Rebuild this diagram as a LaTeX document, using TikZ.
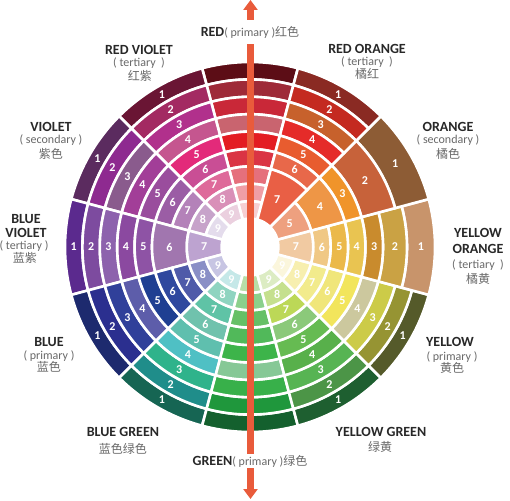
\documentclass[tikz,border=0pt]{standalone}
\usepackage{fontspec}
\setmainfont{Carlito}
\newfontfamily\cjk{Noto Sans CJK SC}
\usetikzlibrary{arrows.meta,positioning}
\definecolor{namedark}{RGB}{40,40,40}
\definecolor{kindgrey}{RGB}{105,105,105}
\definecolor{arrowred}{HTML}{E95B3B}
% cell colours, outer ring first
\definecolor{red1}{HTML}{5C0D16}\definecolor{red2}{HTML}{9E2A38}\definecolor{red3}{HTML}{C92838}
\definecolor{red4}{HTML}{C9646F}\definecolor{red5}{HTML}{E31C22}\definecolor{red6}{HTML}{DA3444}
\definecolor{red7}{HTML}{E5707C}\definecolor{red8}{HTML}{EF9EA6}\definecolor{red9}{HTML}{F6CFD2}
\definecolor{rv1}{HTML}{6A1534}\definecolor{rv2}{HTML}{A32A62}\definecolor{rv3}{HTML}{B1308C}
\definecolor{rv4}{HTML}{C5568F}\definecolor{rv5}{HTML}{E32A7A}\definecolor{rv6}{HTML}{C94E95}
\definecolor{rv7}{HTML}{DE6A9A}\definecolor{rv8}{HTML}{D990B8}\definecolor{rv9}{HTML}{EBD0DF}
\definecolor{vio1}{HTML}{5B2B5F}\definecolor{vio2}{HTML}{8E2A90}\definecolor{vio3}{HTML}{8A5B8D}
\definecolor{vio4}{HTML}{A23E98}\definecolor{vio5}{HTML}{9A4D9D}\definecolor{vio6}{HTML}{9B5DA5}
\definecolor{vio7}{HTML}{B482B9}\definecolor{vio8}{HTML}{C7A3CA}\definecolor{vio9}{HTML}{E4DCEC}
\definecolor{bv1}{HTML}{5B2A8E}\definecolor{bv2}{HTML}{7D4B9F}\definecolor{bv3}{HTML}{8D62AD}
\definecolor{bv4}{HTML}{8B49A0}\definecolor{bv5}{HTML}{8E53A5}\definecolor{bv6}{HTML}{A176AF}
\definecolor{bv7}{HTML}{BDA3D0}
\definecolor{blu1}{HTML}{1D2A6E}\definecolor{blu2}{HTML}{2B2F8F}\definecolor{blu3}{HTML}{30409A}
\definecolor{blu4}{HTML}{5D5DAA}\definecolor{blu5}{HTML}{1F3F92}\definecolor{blu6}{HTML}{2F489E}
\definecolor{blu7}{HTML}{4F5AA9}\definecolor{blu8}{HTML}{8A8FC6}\definecolor{blu9}{HTML}{C7C5E3}
\definecolor{bg1}{HTML}{166553}\definecolor{bg2}{HTML}{1F8D8A}\definecolor{bg3}{HTML}{2FB38B}
\definecolor{bg4}{HTML}{4FC0C4}\definecolor{bg5}{HTML}{5FBFAE}\definecolor{bg6}{HTML}{70C2AD}
\definecolor{bg7}{HTML}{5FC3A6}\definecolor{bg8}{HTML}{8FD4C0}\definecolor{bg9}{HTML}{C5E8E8}
\definecolor{grn1}{HTML}{14602E}\definecolor{grn2}{HTML}{1F973C}\definecolor{grn3}{HTML}{38B04A}
\definecolor{grn4}{HTML}{86C896}\definecolor{grn5}{HTML}{3DB44A}\definecolor{grn6}{HTML}{51B95A}
\definecolor{grn7}{HTML}{66C066}\definecolor{grn8}{HTML}{8BD08C}\definecolor{grn9}{HTML}{B8DEA8}
\definecolor{yg1}{HTML}{1E5F30}\definecolor{yg2}{HTML}{4C9547}\definecolor{yg3}{HTML}{57B453}
\definecolor{yg4}{HTML}{58B04B}\definecolor{yg5}{HTML}{66BB52}\definecolor{yg6}{HTML}{8BC97A}
\definecolor{yg7}{HTML}{BCD857}\definecolor{yg8}{HTML}{C5E08E}\definecolor{yg9}{HTML}{DCECC3}
\definecolor{yel1}{HTML}{555A2A}\definecolor{yel2}{HTML}{969433}\definecolor{yel3}{HTML}{CCCB48}
\definecolor{yel4}{HTML}{CCC89E}\definecolor{yel5}{HTML}{F2E55C}\definecolor{yel6}{HTML}{F0E67A}
\definecolor{yel7}{HTML}{F2EB8C}\definecolor{yel8}{HTML}{F7EFAF}\definecolor{yel9}{HTML}{FBF6DC}
\definecolor{yo1}{HTML}{C8946B}\definecolor{yo2}{HTML}{CAA244}\definecolor{yo3}{HTML}{C98B2D}
\definecolor{yo4}{HTML}{E9C451}\definecolor{yo5}{HTML}{EBB94A}\definecolor{yo6}{HTML}{F0C885}
\definecolor{yo7}{HTML}{F1CAA2}
\definecolor{ora1}{HTML}{8D5C35}\definecolor{ora2}{HTML}{C7623A}\definecolor{ora3}{HTML}{F0942A}
\definecolor{ora4}{HTML}{EE9646}\definecolor{ora5}{HTML}{EEA07F}
\definecolor{ro1}{HTML}{8A2A23}\definecolor{ro2}{HTML}{C42A20}\definecolor{ro3}{HTML}{C7612C}
\definecolor{ro4}{HTML}{E52B29}\definecolor{ro5}{HTML}{E85C2F}\definecolor{ro6}{HTML}{E8684A}
\definecolor{ro7}{HTML}{E95F45}
% rings as outer/inner/number
\def\ninerings{185/167.6/1,167.6/150.2/2,150.2/132.8/3,132.8/115.4/4,115.4/98/5,98/80.6/6,80.6/63.2/7,63.2/45.8/8,45.8/28.4/9}
\def\rorings{185/167.6/1,167.6/150.2/2,150.2/132.8/3,132.8/115.4/4,115.4/98/5,98/80.6/6,80.6/28.4/7}
\def\orarings{185/150.2/1,150.2/115.4/2,115.4/98/3,98/63.2/4,63.2/28.4/5}
\def\yorings{185/157/1,157/133/2,133/115.4/3,115.4/98/4,98/80.6/5,80.6/63.2/6,63.2/28.4/7}
\def\bvrings{185/167.6/1,167.6/150.2/2,150.2/132.8/3,132.8/115.4/4,115.4/98/5,98/63.2/6,63.2/28.4/7}
\newcommand{\sector}[3]{%
  \foreach \ro/\ri/\n in #3
    \filldraw[cell, fill=#1\n] (#2-15:\ro) arc[start angle=#2-15, end angle=#2+15, radius=\ro]
      -- (#2+15:\ri) arc[start angle=#2+15, end angle=#2-15, radius=\ri] -- cycle;}
\newcommand{\ringnums}[3]{%
  \foreach \ro/\ri/\n in #3
    \node[num] (#1-\n) at (#2:{(\ro+\ri)/2}) {\n};}

\begin{document}
\begin{tikzpicture}[x=1pt,y=1pt,
 cell/.style={draw=white,line width=2.6pt},
 num/.style={text=white,font=\bfseries\fontsize{12}{12}\selectfont,inner sep=0pt},
 cname/.style={text=namedark,font=\bfseries\fontsize{14}{14}\selectfont,inner sep=0pt},
 ckind/.style={text=kindgrey,font=\fontsize{12}{12}\selectfont,inner sep=0pt},
 ccjk/.style={text=kindgrey,font=\cjk\fontsize{12}{12}\selectfont,inner sep=0pt},
 primline/.style={cname,fill=white,inner xsep=1pt},
 arr/.style={arrowred,line width=7.6pt,{Triangle[width=14pt,length=10pt]}-{Triangle[width=14pt,length=10pt]}}]
\path[use as bounding box,fill=white] (-250,-253) rectangle (260,247);
% the wheel
\sector{red}{90}{\ninerings}
\sector{rv}{120}{\ninerings}
\sector{vio}{150}{\ninerings}
\sector{bv}{180}{\bvrings}
\sector{blu}{210}{\ninerings}
\sector{bg}{240}{\ninerings}
\sector{grn}{270}{\ninerings}
\sector{yg}{300}{\ninerings}
\sector{yel}{330}{\ninerings}
\sector{yo}{0}{\yorings}
\sector{ora}{30}{\orarings}
\sector{ro}{60}{\rorings}
\ringnums{rv}{120}{\ninerings}
\ringnums{vio}{150}{\ninerings}
\ringnums{bv}{180}{\bvrings}
\ringnums{blu}{210}{\ninerings}
\ringnums{bg}{240}{\ninerings}
\ringnums{yg}{300}{\ninerings}
\ringnums{yel}{330}{\ninerings}
\ringnums{yo}{0}{\yorings}
\ringnums{ora}{30}{\orarings}
\ringnums{ro}{60}{\rorings}
% names round the wheel
\node[cname] (rvname) at (-111,197) {RED VIOLET};
\node[ckind] (rvkind) at (-111,184) {( tertiary~ )};
\node[ccjk] (rvcjk) at (-110,171) {红紫};
\node[cname] (roname) at (117,198) {RED ORANGE};
\node[ckind] (rokind) at (117,185) {( tertiary~ )};
\node[ccjk] (rocjk) at (117,173) {橘红};
\node[cname] (vioname) at (-199,120) {VIOLET};
\node[ckind] (viokind) at (-199,107) {( secondary )};
\node[ccjk] (viocjk) at (-199,93) {紫色};
\node[cname] (oraname) at (198,120) {ORANGE};
\node[ckind] (orakind) at (198,107) {( secondary )};
\node[ccjk] (oracjk) at (198,93) {橘色};
\node[cname] (bvname) at (-224,28) {BLUE};
\node[cname] (bvname2) at (-224,14) {VIOLET};
\node[ckind] (bvkind) at (-226,1) {( tertiary )};
\node[ccjk] (bvcjk) at (-225,-11) {蓝紫};
\node[cname] (yoname) at (228,14) {YELLOW};
\node[cname] (yoname2) at (228,-2) {ORANGE};
\node[ckind] (yokind) at (228,-18) {( tertiary~ )};
\node[ccjk] (yocjk) at (228,-32) {橘黄};
\node[cname] (bluname) at (-201,-95) {BLUE};
\node[ckind] (blukind) at (-201,-109) {( primary )};
\node[ccjk] (blucjk) at (-201,-120) {蓝色};
\node[cname] (yelname) at (200,-95) {YELLOW};
\node[ckind] (yelkind) at (202,-110) {( primary )};
\node[ccjk] (yelcjk) at (202,-121) {黄色};
\node[cname] (bgname) at (-127,-185) {BLUE GREEN};
\node[ccjk] (bgcjk) at (-127,-202) {蓝色绿色};
\node[cname] (ygname) at (131,-185) {YELLOW GREEN};
\node[ccjk] (ygcjk) at (130,-200) {绿黄};
% the arrow and the two primary lines over it
\coordinate (arrowtop) at (0.5,247);
\coordinate (arrowbot) at (0.5,-252);
\draw[arr] (arrowbot) -- (arrowtop);
\node[primline,inner ysep=6pt] (redline) at (0,215) {RED\textcolor{kindgrey}{\mdseries\fontsize{12}{12}\selectfont( primary )\cjk 红色}};
\node[primline,inner ysep=1pt] (greenline) at (0,-214) {GREEN\textcolor{kindgrey}{\mdseries\fontsize{12}{12}\selectfont( primary )\cjk 绿色}};
\end{tikzpicture}
\end{document}
